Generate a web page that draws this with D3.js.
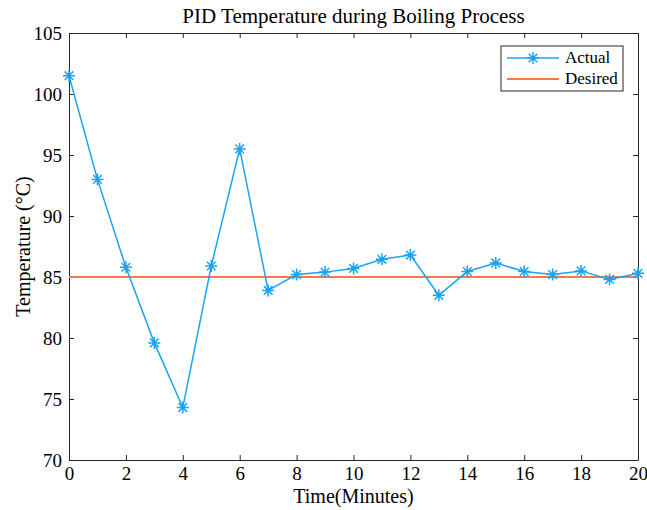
<!DOCTYPE html>
<html>
<head>
<meta charset="utf-8">
<script src="https://cdn.jsdelivr.net/npm/d3@7"></script>
<style>
  body { margin: 0; background: #fff; }
  text { font-family: "Liberation Serif", "Times New Roman", serif; fill: #000; }
</style>
</head>
<body>
<div id="chart"></div>
<script>
// data
var minutes = [0, 1, 2, 3, 4, 5, 6, 7, 8, 9, 10, 11, 12, 13, 14, 15, 16, 17, 18, 19, 20];
var actual = [101.5, 93.0, 85.8, 79.6, 74.3, 85.9, 95.5, 83.9, 85.2, 85.4, 85.7, 86.45, 86.8, 83.5, 85.45, 86.15, 85.45, 85.2, 85.5, 84.8, 85.3];
var desired = 85;
var xTicks = [0, 2, 4, 6, 8, 10, 12, 14, 16, 18, 20];
var yTicks = [70, 75, 80, 85, 90, 95, 100, 105];

var colors = { actual: '#1aa3f0', desired: '#f27a45' };

var margin = { top: 33, right: 9, bottom: 50, left: 69 };
var width = 647 - margin.left - margin.right;
var height = 510 - margin.top - margin.bottom;

var svg = d3.select('#chart').append('svg')
  .attr('width', 647)
  .attr('height', 510);

var g = svg.append('g')
  .attr('transform', 'translate(' + margin.left + ',' + margin.top + ')');

var x = d3.scaleLinear().domain([0, 20]).range([0, width]);
var y = d3.scaleLinear().domain([70, 105]).range([height, 0]);

// axes, ticks pointing inward, box around plot
var axisColor = '#262626';
function styleAxis(sel) {
  sel.select('.domain').attr('stroke', axisColor);
  sel.selectAll('.tick line').attr('stroke', axisColor);
  sel.selectAll('.tick text').style('font-size', '19px');
}

g.append('g')
  .attr('transform', 'translate(0,' + height + ')')
  .call(d3.axisBottom(x).tickValues(xTicks).tickSizeInner(-5).tickSizeOuter(0).tickPadding(7))
  .call(styleAxis);
g.append('g')
  .call(d3.axisTop(x).tickValues(xTicks).tickSizeInner(-5).tickSizeOuter(0).tickFormat(''))
  .call(styleAxis);
g.append('g')
  .call(d3.axisLeft(y).tickValues(yTicks).tickSizeInner(-5).tickSizeOuter(0).tickPadding(7))
  .call(styleAxis);
g.append('g')
  .attr('transform', 'translate(' + width + ',0)')
  .call(d3.axisRight(y).tickValues(yTicks).tickSizeInner(-5).tickSizeOuter(0).tickFormat(''))
  .call(styleAxis);

// desired line
g.append('line')
  .attr('x1', x(0)).attr('x2', x(20))
  .attr('y1', y(desired)).attr('y2', y(desired))
  .attr('stroke', colors.desired)
  .attr('stroke-width', 2);

// actual line
var pts = minutes.map(function(m, i) { return { t: m, v: actual[i] }; });
var valueline = d3.line()
  .x(function(d) { return x(d.t); })
  .y(function(d) { return y(d.v); });

g.append('path')
  .datum(pts)
  .attr('fill', 'none')
  .attr('stroke', colors.actual)
  .attr('stroke-width', 1.5)
  .attr('d', valueline);

// star marker (+ and x)
var r = 6;
var starPath = 'M' + (-r) + ',0L' + r + ',0M0,' + (-r) + 'L0,' + r +
  'M' + (-r * 0.72) + ',' + (-r * 0.72) + 'L' + (r * 0.72) + ',' + (r * 0.72) +
  'M' + (-r * 0.72) + ',' + (r * 0.72) + 'L' + (r * 0.72) + ',' + (-r * 0.72);

g.selectAll('.marker')
  .data(pts)
  .enter().append('path')
  .attr('class', 'marker')
  .attr('transform', function(d) { return 'translate(' + x(d.t) + ',' + y(d.v) + ')'; })
  .attr('d', starPath)
  .attr('stroke', colors.actual)
  .attr('stroke-width', 1.5)
  .attr('fill', 'none');

// title and axis labels
svg.append('text')
  .attr('x', margin.left + width / 2)
  .attr('y', 23)
  .attr('text-anchor', 'middle')
  .style('font-size', '21px')
  .text('PID Temperature during Boiling Process');

svg.append('text')
  .attr('x', margin.left + width / 2)
  .attr('y', 503)
  .attr('text-anchor', 'middle')
  .style('font-size', '20px')
  .text('Time(Minutes)');

svg.append('text')
  .attr('transform', 'translate(30,' + (margin.top + height / 2) + ') rotate(-90)')
  .attr('text-anchor', 'middle')
  .style('font-size', '20px')
  .text('Temperature (°C)');

// legend
var legend = svg.append('g').attr('transform', 'translate(501,46)');
legend.append('rect')
  .attr('width', 122).attr('height', 45)
  .attr('fill', '#fff')
  .attr('stroke', axisColor)
  .attr('stroke-width', 1);
legend.append('line')
  .attr('x1', 6).attr('x2', 58).attr('y1', 12).attr('y2', 12)
  .attr('stroke', colors.actual).attr('stroke-width', 1.5);
legend.append('path')
  .attr('transform', 'translate(32,12)')
  .attr('d', starPath)
  .attr('stroke', colors.actual).attr('stroke-width', 1.5);
legend.append('text')
  .attr('x', 64).attr('y', 17)
  .style('font-size', '17px')
  .text('Actual');
legend.append('line')
  .attr('x1', 6).attr('x2', 58).attr('y1', 33).attr('y2', 33)
  .attr('stroke', colors.desired).attr('stroke-width', 2);
legend.append('text')
  .attr('x', 64).attr('y', 38)
  .style('font-size', '17px')
  .text('Desired');
</script>
</body>
</html>
